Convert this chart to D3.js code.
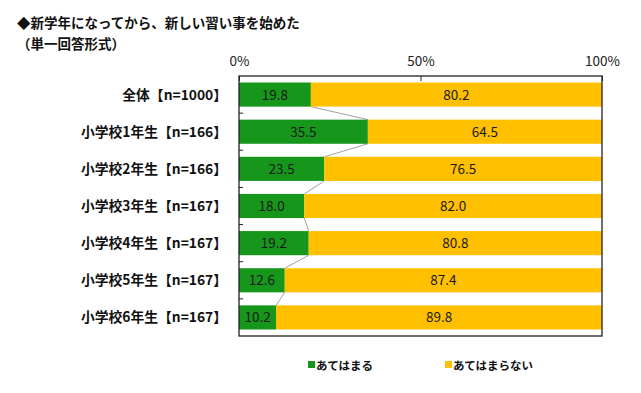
<!DOCTYPE html>
<html><head><meta charset="utf-8">
<script src="https://cdn.jsdelivr.net/npm/d3@7"></script>
<style>body{margin:0;background:#fff}svg{display:block}text{font-family:"Noto Sans CJK JP","Noto Sans",sans-serif}</style>
</head><body><svg id="c" width="641" height="393"></svg>
<script>
const categories = ["全体【n=1000】","小学校1年生【n=166】","小学校2年生【n=166】","小学校3年生【n=167】","小学校4年生【n=167】","小学校5年生【n=167】","小学校6年生【n=167】"];
const yesValues = [19.8,35.5,23.5,18.0,19.2,12.6,10.2];
const noValues = [80.2,64.5,76.5,82.0,80.8,87.4,89.8];
const seriesNames = ["あてはまる","あてはまらない"];
const tickValues = [0,50,100];
const colors = ["#16961a","#ffc000"];

const svg = d3.select("#c");
const L = 239, R = 602, T = 76, B = 336;
const x = d3.scaleLinear().domain([0,100]).range([L,R]);
const y = d3.scaleBand().domain(categories).range([T,B]).paddingInner(0.35).paddingOuter(0.175);

// title
svg.append("text").attr("x",17).attr("y",28).attr("font-size",13.5).attr("font-weight","bold").attr("fill","#111").text("◆新学年になってから、新しい習い事を始めた");
svg.append("text").attr("x",17).attr("y",49).attr("font-size",13.5).attr("font-weight","bold").attr("fill","#111").text("（単一回答形式）");

const rows = categories.map((c,i)=>({c, yes:yesValues[i], no:noValues[i]}));

// series lines
for (let i=0;i<rows.length-1;i++){
  svg.append("line").attr("x1",x(rows[i].yes)).attr("y1",y(rows[i].c)+y.bandwidth())
    .attr("x2",x(rows[i+1].yes)).attr("y2",y(rows[i+1].c)).attr("stroke","#a0a0a0").attr("stroke-width",1);
}

// bars
const g = svg.append("g");
g.selectAll("rect.yes").data(rows).join("rect").attr("class","yes")
  .attr("x",x(0)).attr("y",d=>y(d.c)).attr("width",d=>x(d.yes)-x(0)).attr("height",y.bandwidth()).attr("fill",colors[0]);
g.selectAll("rect.no").data(rows).join("rect").attr("class","no")
  .attr("x",d=>x(d.yes)).attr("y",d=>y(d.c)).attr("width",d=>x(d.yes+d.no)-x(d.yes)).attr("height",y.bandwidth()).attr("fill",colors[1]);

// value labels
g.selectAll("text.yl").data(rows).join("text").attr("class","yl")
  .attr("x",d=>(x(0)+x(d.yes))/2).attr("y",d=>y(d.c)+y.bandwidth()/2+5)
  .attr("text-anchor","middle").attr("font-size",13.5).attr("fill","#1a1a1a").attr("font-family","Liberation Sans, Arial, sans-serif").text(d=>d.yes.toFixed(1));
g.selectAll("text.nl").data(rows).join("text").attr("class","nl")
  .attr("x",d=>(x(d.yes)+x(d.yes+d.no))/2).attr("y",d=>y(d.c)+y.bandwidth()/2+5)
  .attr("text-anchor","middle").attr("font-size",13.5).attr("fill","#1a1a1a").attr("font-family","Liberation Sans, Arial, sans-serif").text(d=>d.no.toFixed(1));

// frame
svg.append("rect").attr("x",L).attr("y",T).attr("width",R-L).attr("height",B-T).attr("fill","none").attr("stroke","#222").attr("stroke-width",1.3);

// top axis
const xAxis = d3.axisTop(x).tickValues(tickValues).tickFormat(d=>d+"%").tickSize(-5).tickPadding(10);
const ax = svg.append("g").attr("transform",`translate(0,${T})`).call(xAxis);
ax.select(".domain").remove();
ax.selectAll("line").attr("stroke","#222");
ax.selectAll("text").attr("font-size",13.5).attr("fill","#222").attr("font-family","Liberation Sans, Arial, sans-serif");

// left ticks between categories
const sepY = categories.slice(1).map(c=>y(c)-y.step()*y.paddingInner()/2);
svg.selectAll("line.lt").data(sepY).join("line").attr("class","lt")
  .attr("x1",L).attr("x2",L+4).attr("y1",d=>d).attr("y2",d=>d).attr("stroke","#222");

// category labels
svg.selectAll("text.cat").data(categories).join("text").attr("class","cat")
  .attr("x",227).attr("y",c=>y(c)+y.bandwidth()/2+5).attr("text-anchor","end")
  .attr("font-size",13.8).attr("font-weight","bold").attr("fill","#111").text(c=>c);

// legend
const lg = [{n:seriesNames[0],c:colors[0],x:308},{n:seriesNames[1],c:colors[1],x:445}];
lg.forEach(d=>{
  svg.append("rect").attr("x",d.x).attr("y",361).attr("width",7).attr("height",7).attr("fill",d.c);
  svg.append("text").attr("x",d.x+8).attr("y",369.5).attr("font-size",11.5).attr("font-weight","bold").attr("fill","#111").text(d.n);
});
</script></body></html>
